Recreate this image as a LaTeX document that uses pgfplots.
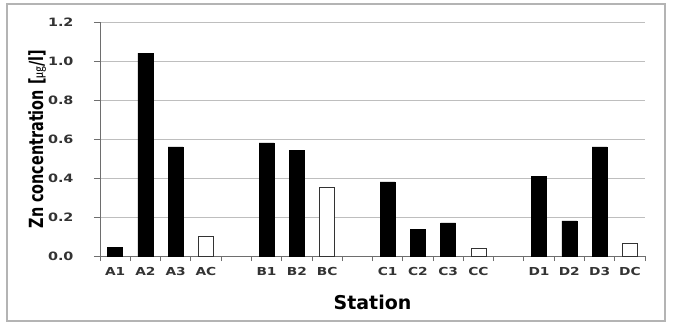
\documentclass[border=0pt]{standalone}
\usepackage{fontspec}
\setmainfont{DejaVu Sans}
\newfontfamily\tickfont{DejaVu Sans Bold}[FakeStretch=1.25]
\newfontfamily\condbold{DejaVu Sans Condensed Bold}[FakeStretch=0.82]
\newfontfamily\cjk{Noto Sans CJK KR}
\usepackage{pgfplots}
\pgfplotsset{compat=1.18}
\definecolor{gridgray}{RGB}{190,190,190}
\definecolor{axgray}{RGB}{110,110,110}
\definecolor{framegray}{RGB}{180,180,180}
\begin{document}
\begin{tikzpicture}[x=1pt,y=1pt]
\useasboundingbox (-100,-68) rectangle (574,256);
\draw[framegray, line width=1.6pt] (-93,-65) rectangle (565,252);
\begin{axis}[
  at={(0,0)}, anchor=south west,
  scale only axis, width=545pt, height=234pt,
  xmin=-0.5, xmax=17.5, ymin=0, ymax=1.2,
  axis lines=left, axis line style={axgray, line width=0.8pt, -},
  ytick={0,0.2,...,1.2},
  yticklabel={\pgfmathprintnumber[fixed,fixed zerofill,precision=1]{\tick}},
  /pgf/number format/assume math mode=true,
  ymajorgrids, grid style={gridgray, line width=0.8pt},
  ytick style={axgray, line width=0.8pt},
  tick align=outside, major tick length=6pt,
  xtick={0,1,2,3,5,6,7,9,10,11,12,14,15,16,17},
  xticklabels={A1,A2,A3,AC,B1,B2,BC,C1,C2,C3,CC,D1,D2,D3,DC},
  xtick style={draw=none},
  extra x ticks={-0.5,0.5,...,17.5},
  extra x tick labels={},
  extra x tick style={grid=none, xtick style={draw=axgray, line width=0.8pt}, major tick length=5pt},
  ticklabel style={font=\tickfont\fontsize{11}{12}\selectfont, text=black!80},
  yticklabel style={font=\tickfont\fontsize{11.5}{12}\selectfont},
  yticklabel shift=17pt,
  xticklabel style={yshift=-2pt},
  xlabel={Station},
  xlabel style={font=\bfseries\fontsize{19}{22}\selectfont, yshift=-1pt},
  ylabel={\condbold Zn concentration [{\cjk\fontsize{12}{12}\selectfont ㎍}/l]},
  ylabel style={font=\fontsize{19.5}{22}\selectfont, yshift=-5pt},
  ybar, bar width=15pt, bar shift=0pt,
]
\addplot[fill=black, draw=black] coordinates {
  (0,0.045) (1,1.04) (2,0.56)
  (5,0.58) (6,0.54)
  (9,0.38) (10,0.135) (11,0.17)
  (14,0.41) (15,0.18) (16,0.56)
};
\addplot[fill=white, draw=black!80, line width=0.8pt] coordinates {
  (3,0.10) (7,0.35) (12,0.04) (17,0.065)
};
\end{axis}
\end{tikzpicture}
\end{document}
